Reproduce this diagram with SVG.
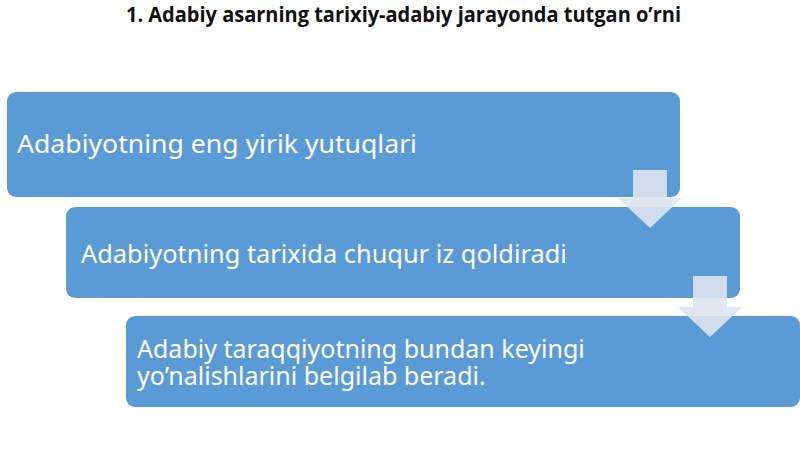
<svg xmlns="http://www.w3.org/2000/svg" width="800" height="449" viewBox="0 0 800 449">
<style>
.box{fill:#5b9bd5;}
.lbl{font-family:"Noto Sans","Open Sans","DejaVu Sans",sans-serif;font-size:25px;fill:#ffffff;}
.title{font-family:"Open Sans","Noto Sans","Liberation Sans",sans-serif;font-size:21px;font-weight:bold;fill:#111111;}
.arr{fill:#dde4ef;fill-opacity:0.9;}
</style>
<rect width="800" height="449" fill="#ffffff"/>
<text class="title" x="126" y="22" textLength="555" lengthAdjust="spacingAndGlyphs">1. Adabiy asarning tarixiy-adabiy jarayonda tutgan o’rni</text>
<g id="node1">
<rect class="box" x="7" y="92" width="673" height="105" rx="9"/>
<text class="lbl" x="17" y="153" style="font-size:26px" textLength="400" lengthAdjust="spacingAndGlyphs">Adabiyotning eng yirik yutuqlari</text>
</g>
<g id="node2">
<rect class="box" x="66" y="207" width="674" height="91" rx="9"/>
<text class="lbl" x="81" y="263" style="font-size:25.4px">Adabiyotning tarixida chuqur iz qoldiradi</text>
</g>
<g id="node3">
<rect class="box" x="126" y="316" width="674" height="91" rx="9"/>
<text class="lbl" x="137" y="358">Adabiy taraqqiyotning bundan keyingi</text>
<text class="lbl" x="137" y="385">yo’nalishlarini belgilab beradi.</text>
</g>
<g id="connectors">
<polygon class="arr" points="633,170 667,170 667,198 682,198 650,228 618,198 633,198"/>
<polygon class="arr" points="693,276 727,276 727,307 742,307 710,337 678,307 693,307"/>
</g>
</svg>
